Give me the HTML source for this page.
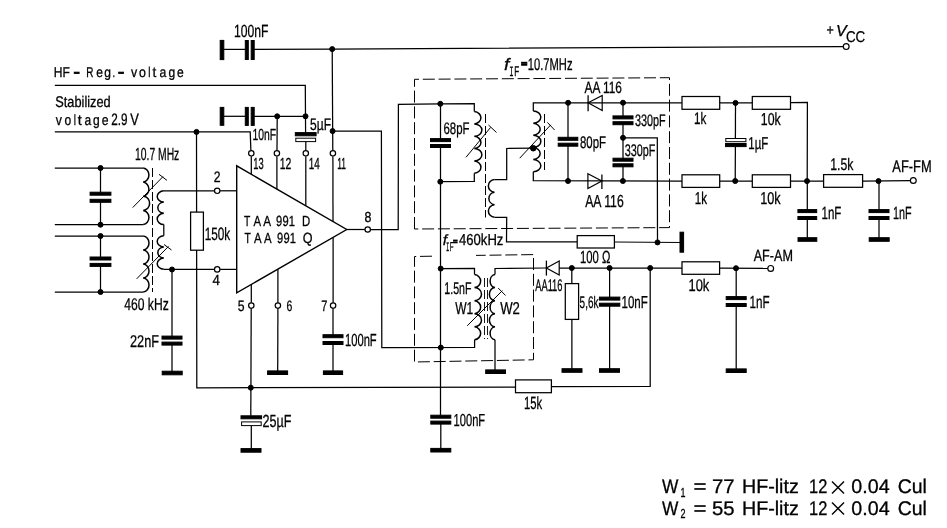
<!DOCTYPE html>
<html><head><meta charset="utf-8"><title>TAA 991 AM/FM IF circuit</title>
<style>html,body{margin:0;padding:0;background:#fff}svg{display:block;filter:grayscale(1)}
svg text{text-rendering:geometricPrecision}
svg path,svg rect,svg circle{stroke:#000;stroke-linejoin:miter;stroke-linecap:butt}
svg path{fill:none}
svg text{font-family:"Liberation Sans",sans-serif;fill:#000;stroke:#000;stroke-width:0.3}</style></head>
<body><svg width="947" height="528" viewBox="0 0 947 528">
<rect x="0" y="0" width="947" height="528" fill="#fff" stroke="none" style="stroke:none"/>
<rect x="220.2" y="40.4" width="3.6" height="19.2" fill="#000" stroke="none"/>
<path d="M222.0 49.4 L246.5 49.4" stroke-width="1.25" />
<rect x="245.3" y="40.5" width="3.0" height="19.0" fill="#000" stroke="none"/>
<rect x="251.2" y="40.5" width="3.0" height="19.0" fill="#000" stroke="none"/>
<path d="M253.5 49.4 L332.2 49.1 L843.3 46.6" stroke-width="1.25" />
<circle cx="846.2" cy="46.6" r="2.9" fill="#fff" stroke-width="1.2"/>
<circle cx="332.2" cy="49.1" r="2.5" fill="#000" stroke="none"/>
<path d="M332.2 49.1 L332.8 150.5" stroke-width="1.25" />
<path d="M332.9 156.3 L333.0 221.8" stroke-width="1.25" />
<circle cx="332.6" cy="131.1" r="2.5" fill="#000" stroke="none"/>
<path d="M332.6 131.1 L381.4 131.1 L381.8 347.6 L474.6 347.4 L474.6 339.8" stroke-width="1.25" />
<path d="M54.8 85.4 L305.3 85.4 L305.6 132.6" stroke-width="1.25" />
<circle cx="305.5" cy="116.3" r="2.5" fill="#000" stroke="none"/>
<rect x="295.3" y="132.6" width="20.8" height="3.2" fill="#000" stroke="none"/>
<rect x="295.8" y="138.2" width="19.8" height="3.4" fill="#fff" stroke-width="1.0"/>
<path d="M305.8 141.8 L305.8 150.4" stroke-width="1.25" />
<path d="M305.8 156.3 L305.8 205.8" stroke-width="1.25" />
<rect x="220.2" y="107.4" width="3.6" height="17.9" fill="#000" stroke="none"/>
<path d="M222.0 116.3 L246.5 116.3" stroke-width="1.25" />
<rect x="245.3" y="107.4" width="3.0" height="18.0" fill="#000" stroke="none"/>
<rect x="251.2" y="107.4" width="3.0" height="18.0" fill="#000" stroke="none"/>
<path d="M253.5 116.3 L305.5 116.3" stroke-width="1.25" />
<circle cx="277.2" cy="116.3" r="2.5" fill="#000" stroke="none"/>
<path d="M277.2 116.3 L277.0 150.4" stroke-width="1.25" />
<path d="M276.9 156.3 L276.9 189.1" stroke-width="1.25" />
<path d="M54.8 131.9 L250.2 131.9 L250.9 150.4" stroke-width="1.25" />
<path d="M251.3 156.3 L251.3 174.3" stroke-width="1.25" />
<circle cx="196.5" cy="131.9" r="2.5" fill="#000" stroke="none"/>
<path d="M196.5 131.9 L196.8 387.8 L515.5 387.2" stroke-width="1.25" />
<rect x="190.6" y="212.1" width="12.8" height="38.1" fill="#fff" stroke-width="1.25"/>
<rect x="515.5" y="379.9" width="35.9" height="12.8" fill="#fff" stroke-width="1.25"/>
<path d="M551.4 386.7 L650.2 386.5 L650.2 268.0" stroke-width="1.25" />
<path d="M54.8 168.0 L143.2 168.0" stroke-width="1.25" />
<path d="M54.8 224.7 L143.2 224.7" stroke-width="1.25" />
<path d="M54.8 236.0 L143.2 236.0" stroke-width="1.25" />
<path d="M54.8 292.0 L143.2 292.0" stroke-width="1.25" />
<path d="M100.5 168.0 L100.5 193.7" stroke-width="1.25" />
<path d="M100.5 200.8 L100.5 224.7" stroke-width="1.25" />
<rect x="90.1" y="192.2" width="20.8" height="3.0" fill="#000" stroke="none"/>
<rect x="90.1" y="199.3" width="20.8" height="3.0" fill="#000" stroke="none"/>
<path d="M100.5 236.0 L100.5 258.5" stroke-width="1.25" />
<path d="M100.5 264.9 L100.5 292.0" stroke-width="1.25" />
<rect x="90.1" y="257.0" width="20.8" height="3.0" fill="#000" stroke="none"/>
<rect x="90.1" y="263.4" width="20.8" height="3.0" fill="#000" stroke="none"/>
<circle cx="100.5" cy="168.0" r="2.5" fill="#000" stroke="none"/>
<circle cx="100.5" cy="224.7" r="2.5" fill="#000" stroke="none"/>
<circle cx="100.5" cy="236.0" r="2.5" fill="#000" stroke="none"/>
<circle cx="100.5" cy="292.0" r="2.5" fill="#000" stroke="none"/>
<path d="M143.2 168.0 A6.4 7.09 0 0 1 143.2 182.1 A6.4 7.09 0 0 1 143.2 196.2 A6.4 7.09 0 0 1 143.2 210.4 A6.4 7.09 0 0 1 143.2 224.5" stroke-width="1.5"/>
<path d="M143.2 236.0 A6.4 7.03 0 0 1 143.2 250.0 A6.4 7.03 0 0 1 143.2 264.0 A6.4 7.03 0 0 1 143.2 278.0 A6.4 7.03 0 0 1 143.2 292.0" stroke-width="1.5"/>
<path d="M152.5 168.0 L152.5 292.0" stroke-width="1.0" stroke-dasharray="9 3"/>
<path d="M214.3 190.8 L163.8 190.8" stroke-width="1.25" />
<path d="M163.8 190.8 A7.0 5.66 0 0 0 163.8 202.1 A7.0 5.66 0 0 0 163.8 213.3 A7.0 5.66 0 0 0 163.8 224.6" stroke-width="1.5"/>
<path d="M163.8 224.6 L163.8 235.8" stroke-width="1.25" />
<path d="M163.8 235.8 A7.0 5.61 0 0 0 163.8 247.0 A7.0 5.61 0 0 0 163.8 258.1 A7.0 5.61 0 0 0 163.8 269.3" stroke-width="1.5"/>
<path d="M163.8 269.3 L214.3 269.4" stroke-width="1.25" />
<circle cx="172.0" cy="269.5" r="2.5" fill="#000" stroke="none"/>
<path d="M172.0 269.5 L172.0 337.6" stroke-width="1.25" />
<path d="M172.0 343.6 L172.0 373.0" stroke-width="1.25" />
<rect x="162.0" y="336.1" width="20.0" height="3.0" fill="#000" stroke="none"/>
<rect x="162.0" y="342.1" width="20.0" height="3.0" fill="#000" stroke="none"/>
<rect x="162.2" y="371.2" width="20.0" height="3.6" fill="#000" stroke="none"/>
<path d="M132.7 207.6 L163.0 176.6" stroke-width="1.0" />
<path d="M159.0 174.3 L167.0 180.4" stroke-width="1.0" />
<path d="M136.7 278.8 L168.5 246.4" stroke-width="1.0" />
<path d="M164.0 244.5 L171.5 250.0" stroke-width="1.0" />
<circle cx="217.2" cy="190.8" r="2.7" fill="#fff" stroke-width="1.2"/>
<circle cx="217.2" cy="269.4" r="2.7" fill="#fff" stroke-width="1.2"/>
<path d="M220.1 190.8 L236.7 190.8" stroke-width="1.25" />
<path d="M220.1 269.4 L236.7 269.4" stroke-width="1.25" />
<path d="M236.7 165.8 L236.7 292.9 L346.7 229.5 Z" stroke-width="1.4" fill="none"/>
<circle cx="251.3" cy="153.3" r="2.7" fill="#fff" stroke-width="1.2"/>
<circle cx="276.9" cy="153.3" r="2.7" fill="#fff" stroke-width="1.2"/>
<circle cx="305.8" cy="153.3" r="2.7" fill="#fff" stroke-width="1.2"/>
<circle cx="332.9" cy="153.3" r="2.7" fill="#fff" stroke-width="1.2"/>
<path d="M346.7 229.5 L364.8 229.5" stroke-width="1.25" />
<circle cx="367.7" cy="229.5" r="2.7" fill="#fff" stroke-width="1.2"/>
<path d="M370.6 229.5 L398.2 229.5 L398.4 104.3 L440.3 103.8 L474.3 103.6 L474.3 111.6" stroke-width="1.25" />
<circle cx="251.3" cy="305.6" r="2.7" fill="#fff" stroke-width="1.2"/>
<circle cx="277.9" cy="305.6" r="2.7" fill="#fff" stroke-width="1.2"/>
<circle cx="333.1" cy="305.6" r="2.7" fill="#fff" stroke-width="1.2"/>
<path d="M251.3 284.5 L251.3 302.7" stroke-width="1.25" />
<path d="M251.2 308.5 L250.8 415.8" stroke-width="1.25" />
<circle cx="250.8" cy="387.7" r="2.5" fill="#000" stroke="none"/>
<rect x="241.0" y="415.8" width="20.6" height="3.0" fill="#000" stroke="none"/>
<rect x="241.6" y="421.9" width="19.6" height="3.7" fill="#fff" stroke-width="1.0"/>
<path d="M251.3 425.8 L251.3 450.0" stroke-width="1.25" />
<rect x="241.0" y="448.6" width="20.0" height="3.6" fill="#000" stroke="none"/>
<path d="M277.9 269.2 L277.9 302.7" stroke-width="1.25" />
<path d="M277.9 308.5 L277.7 372.0" stroke-width="1.25" />
<rect x="267.6" y="370.9" width="20.0" height="3.6" fill="#000" stroke="none"/>
<path d="M333.1 237.3 L333.1 302.7" stroke-width="1.25" />
<path d="M333.0 308.5 L333.0 336.2" stroke-width="1.25" />
<path d="M333.0 343.0 L333.0 372.0" stroke-width="1.25" />
<rect x="323.0" y="334.7" width="20.0" height="3.0" fill="#000" stroke="none"/>
<rect x="323.0" y="341.5" width="20.0" height="3.0" fill="#000" stroke="none"/>
<rect x="323.4" y="370.9" width="19.2" height="3.6" fill="#000" stroke="none"/>
<path d="M414.5 229.0 L414.5 79.3 L669.5 77.7 L669.5 227.6 L414.5 229.0" stroke-width="1.0" stroke-dasharray="12 3.8"/>
<circle cx="440.3" cy="103.8" r="2.5" fill="#000" stroke="none"/>
<path d="M440.5 103.8 L440.5 140.1" stroke-width="1.25" />
<path d="M440.5 146.0 L440.5 415.2" stroke-width="1.25" />
<rect x="430.5" y="138.6" width="20.0" height="3.0" fill="#000" stroke="none"/>
<rect x="430.5" y="144.5" width="20.0" height="3.0" fill="#000" stroke="none"/>
<path d="M440.8 424.0 L440.8 450.0" stroke-width="1.25" />
<rect x="430.8" y="415.2" width="20.0" height="3.0" fill="#000" stroke="none"/>
<rect x="430.8" y="421.1" width="20.0" height="3.0" fill="#000" stroke="none"/>
<rect x="430.8" y="448.4" width="20.0" height="3.6" fill="#000" stroke="none"/>
<circle cx="440.3" cy="181.7" r="2.5" fill="#000" stroke="none"/>
<circle cx="440.7" cy="268.6" r="2.5" fill="#000" stroke="none"/>
<circle cx="440.8" cy="347.6" r="2.5" fill="#000" stroke="none"/>
<path d="M474.3 111.6 A7.6 6.20 0 0 1 474.3 123.9 A7.6 6.20 0 0 1 474.3 136.3 A7.6 6.20 0 0 1 474.3 148.6 A7.6 6.20 0 0 1 474.3 161.0 A7.6 6.20 0 0 1 474.3 173.3" stroke-width="1.5"/>
<path d="M474.3 173.3 L474.3 181.5 L440.3 181.7" stroke-width="1.25" />
<path d="M485.5 114.0 L485.5 217.5" stroke-width="1.0" stroke-dasharray="9 3"/>
<path d="M466.0 157.3 L490.5 127.5" stroke-width="1.0" />
<path d="M488.5 125.0 L496.5 132.5" stroke-width="1.0" />
<circle cx="533.3" cy="148.2" r="2.8" fill="#000" stroke="none"/>
<path d="M533.3 148.2 L506.7 148.5 L506.7 179.6 L494.5 179.6" stroke-width="1.25" />
<path d="M494.5 179.6 A6.5 6.31 0 0 0 494.5 192.2 A6.5 6.31 0 0 0 494.5 204.7 A6.5 6.31 0 0 0 494.5 217.3" stroke-width="1.5"/>
<path d="M494.5 217.3 L506.7 217.3 L506.5 241.9 L577.2 241.8" stroke-width="1.25" />
<rect x="577.2" y="235.6" width="37.2" height="12.4" fill="#fff" stroke-width="1.25"/>
<path d="M614.4 242.0 L681.8 242.5" stroke-width="1.25" />
<circle cx="657.5" cy="242.4" r="2.5" fill="#000" stroke="none"/>
<rect x="680.0" y="232.2" width="3.6" height="20.0" fill="#000" stroke="none"/>
<path d="M533.3 111.0 L533.3 102.8 L682.0 102.8" stroke-width="1.25" />
<path d="M533.3 111.0 A8.0 6.11 0 0 1 533.3 123.2 A8.0 6.11 0 0 1 533.3 135.3 A8.0 6.11 0 0 1 533.3 147.5 A8.0 6.11 0 0 1 533.3 159.6 A8.0 6.11 0 0 1 533.3 171.8" stroke-width="1.5"/>
<path d="M533.3 171.8 L533.3 180.6 L682.0 181.0" stroke-width="1.25" />
<path d="M544.5 114.0 L544.5 170.0" stroke-width="1.0" stroke-dasharray="9 3"/>
<path d="M519.7 158.2 L550.8 124.8" stroke-width="1.0" />
<path d="M547.4 122.4 L554.6 130.0" stroke-width="1.0" />
<circle cx="568.1" cy="102.8" r="2.5" fill="#000" stroke="none"/>
<circle cx="568.0" cy="181.0" r="2.5" fill="#000" stroke="none"/>
<path d="M568.0 102.8 L568.0 138.8" stroke-width="1.25" />
<path d="M568.0 144.7 L568.0 181.0" stroke-width="1.25" />
<rect x="558.2" y="137.3" width="19.6" height="3.0" fill="#000" stroke="none"/>
<rect x="558.2" y="143.2" width="19.6" height="3.0" fill="#000" stroke="none"/>
<path d="M588.1 102.8 L602.2 95.5 L602.2 110.5 Z" fill="#fff" stroke-width="1.2"/>
<path d="M588.1 95.2 L588.1 111.2" stroke-width="1.3" />
<circle cx="623.0" cy="102.7" r="2.5" fill="#000" stroke="none"/>
<circle cx="623.0" cy="137.8" r="2.5" fill="#000" stroke="none"/>
<circle cx="622.9" cy="181.0" r="2.5" fill="#000" stroke="none"/>
<path d="M623.0 102.7 L623.0 117.4" stroke-width="1.25" />
<path d="M623.0 123.2 L623.0 137.8" stroke-width="1.25" />
<rect x="613.0" y="115.9" width="20.0" height="3.0" fill="#000" stroke="none"/>
<rect x="613.0" y="121.7" width="20.0" height="3.0" fill="#000" stroke="none"/>
<path d="M623.0 137.8 L623.0 159.7" stroke-width="1.25" />
<path d="M623.0 165.3 L623.0 181.0" stroke-width="1.25" />
<rect x="613.0" y="158.2" width="20.0" height="3.0" fill="#000" stroke="none"/>
<rect x="613.0" y="163.8" width="20.0" height="3.0" fill="#000" stroke="none"/>
<path d="M623.0 137.8 L657.3 137.8 L657.5 242.4" stroke-width="1.25" />
<path d="M587.9 173.8 L587.9 188.6 L601.9 181 Z" fill="#fff" stroke-width="1.2"/>
<path d="M601.9 174.4 L601.9 188.9" stroke-width="1.3" />
<rect x="682.0" y="96.5" width="37.7" height="12.8" fill="#fff" stroke-width="1.25"/>
<rect x="752.3" y="96.5" width="38.2" height="12.8" fill="#fff" stroke-width="1.25"/>
<rect x="682.0" y="174.8" width="37.7" height="12.6" fill="#fff" stroke-width="1.25"/>
<rect x="752.3" y="174.8" width="38.2" height="12.6" fill="#fff" stroke-width="1.25"/>
<path d="M719.7 102.9 L752.3 102.9" stroke-width="1.25" />
<path d="M719.7 181.0 L752.3 181.0" stroke-width="1.25" />
<circle cx="735.5" cy="102.9" r="2.5" fill="#000" stroke="none"/>
<circle cx="735.2" cy="181.0" r="2.5" fill="#000" stroke="none"/>
<path d="M735.5 102.9 L735.4 138.4" stroke-width="1.25" />
<path d="M735.4 146.5 L735.2 181.0" stroke-width="1.25" />
<rect x="725.8" y="138.5" width="20.1" height="3.2" fill="#fff" stroke-width="1.0"/>
<rect x="725.5" y="143.5" width="20.6" height="3.1" fill="#000" stroke="none"/>
<path d="M790.5 102.6 L807.4 102.5 L807.2 181.0" stroke-width="1.25" />
<path d="M790.5 181.0 L823.6 181.1" stroke-width="1.25" />
<circle cx="807.0" cy="181.1" r="2.5" fill="#000" stroke="none"/>
<rect x="823.6" y="174.6" width="39.0" height="12.7" fill="#fff" stroke-width="1.25"/>
<path d="M862.6 181.1 L910.5 180.6" stroke-width="1.25" />
<circle cx="878.5" cy="181.1" r="2.5" fill="#000" stroke="none"/>
<circle cx="913.3" cy="180.5" r="2.9" fill="#fff" stroke-width="1.2"/>
<path d="M807.3 181.0 L807.3 211.1" stroke-width="1.25" />
<path d="M807.3 218.0 L807.3 239.5" stroke-width="1.25" />
<rect x="797.9" y="209.6" width="18.8" height="3.0" fill="#000" stroke="none"/>
<rect x="797.9" y="216.5" width="18.8" height="3.0" fill="#000" stroke="none"/>
<rect x="798.0" y="237.7" width="18.8" height="3.6" fill="#000" stroke="none"/>
<path d="M879.0 181.0 L879.0 211.1" stroke-width="1.25" />
<path d="M879.0 218.0 L879.0 239.5" stroke-width="1.25" />
<rect x="869.0" y="209.6" width="20.0" height="3.0" fill="#000" stroke="none"/>
<rect x="869.0" y="216.5" width="20.0" height="3.0" fill="#000" stroke="none"/>
<rect x="869.2" y="237.7" width="20.0" height="3.6" fill="#000" stroke="none"/>
<path d="M432.0 256.2 L414.5 256.5 L414.5 362.0 L533.5 359.8 L533.5 254.6 L476.0 255.4" stroke-width="1.0" stroke-dasharray="12 3.8"/>
<path d="M440.7 268.6 L474.5 268.5 L474.5 274.6" stroke-width="1.25" />
<path d="M474.5 274.6 A7.0 6.55 0 0 1 474.5 287.6 A7.0 6.55 0 0 1 474.5 300.7 A7.0 6.55 0 0 1 474.5 313.7 A7.0 6.55 0 0 1 474.5 326.8 A7.0 6.55 0 0 1 474.5 339.8" stroke-width="1.5"/>
<path d="M484.5 278.0 L484.5 339.0" stroke-width="0.9" stroke-dasharray="9 3"/>
<path d="M487.5 278.0 L487.5 339.0" stroke-width="0.9" stroke-dasharray="9 3"/>
<path d="M495.0 274.6 L495.0 268.5 L546.4 268.0" stroke-width="1.25" />
<path d="M495.0 274.6 A5.6 6.55 0 0 0 495.0 287.6 A5.6 6.55 0 0 0 495.0 300.7 A5.6 6.55 0 0 0 495.0 313.7 A5.6 6.55 0 0 0 495.0 326.8 A5.6 6.55 0 0 0 495.0 339.8" stroke-width="1.5"/>
<path d="M495.0 339.8 L495.0 371.0" stroke-width="1.25" />
<rect x="485.7" y="369.9" width="19.8" height="3.6" fill="#000" stroke="none"/>
<path d="M467.2 325.8 L502.4 290.6" stroke-width="1.0" />
<path d="M498.2 288.1 L505.6 295.5" stroke-width="1.0" />
<path d="M546.4 268 L559.2 261 L559.2 275 Z" fill="#fff" stroke-width="1.2"/>
<path d="M546.4 260.6 L546.4 275.6" stroke-width="1.3" />
<path d="M559.2 268.0 L682.0 268.1" stroke-width="1.25" />
<rect x="682.0" y="261.8" width="37.6" height="12.5" fill="#fff" stroke-width="1.25"/>
<path d="M719.6 268.2 L768.0 268.4" stroke-width="1.25" />
<circle cx="736.0" cy="268.2" r="2.5" fill="#000" stroke="none"/>
<circle cx="770.7" cy="268.4" r="2.9" fill="#fff" stroke-width="1.2"/>
<circle cx="571.8" cy="268.0" r="2.5" fill="#000" stroke="none"/>
<circle cx="609.6" cy="268.0" r="2.5" fill="#000" stroke="none"/>
<circle cx="650.2" cy="268.0" r="2.5" fill="#000" stroke="none"/>
<path d="M571.8 268.0 L571.9 370.0" stroke-width="1.25" />
<rect x="565.3" y="283.6" width="13.3" height="35.8" fill="#fff" stroke-width="1.25"/>
<rect x="562.0" y="368.7" width="20.0" height="3.6" fill="#000" stroke="none"/>
<path d="M609.6 268.0 L609.6 298.6" stroke-width="1.25" />
<path d="M609.6 304.7 L609.6 370.0" stroke-width="1.25" />
<rect x="599.4" y="297.1" width="20.4" height="3.0" fill="#000" stroke="none"/>
<rect x="599.4" y="303.2" width="20.4" height="3.0" fill="#000" stroke="none"/>
<rect x="599.5" y="368.7" width="20.0" height="3.6" fill="#000" stroke="none"/>
<path d="M736.2 268.2 L736.2 298.1" stroke-width="1.25" />
<path d="M736.2 305.0 L736.2 370.0" stroke-width="1.25" />
<rect x="726.2" y="296.6" width="20.0" height="3.0" fill="#000" stroke="none"/>
<rect x="726.2" y="303.5" width="20.0" height="3.0" fill="#000" stroke="none"/>
<rect x="726.2" y="368.9" width="20.0" height="3.6" fill="#000" stroke="none"/>
<g style="opacity:0.999">
<text x="234.0" y="37.2" font-size="17.7"  textLength="34.5" lengthAdjust="spacingAndGlyphs" >100nF</text>
<text x="53.7" y="76.9" font-size="14.3"  textLength="16.1" lengthAdjust="spacingAndGlyphs" >HF</text>
<text x="86.3" y="76.9" font-size="14.3"  textLength="7.2" lengthAdjust="spacingAndGlyphs" >R</text>
<text x="96.3" y="76.9" font-size="14.3"  textLength="6.7" lengthAdjust="spacingAndGlyphs" >e</text>
<text x="104.2" y="76.9" font-size="14.3"  textLength="6.7" lengthAdjust="spacingAndGlyphs" >g</text>
<text x="112.6" y="76.9" font-size="14.3"  textLength="2.6" lengthAdjust="spacingAndGlyphs" >.</text>
<text x="131.0" y="76.9" font-size="14.3"  textLength="6.2" lengthAdjust="spacingAndGlyphs" >v</text>
<text x="139.0" y="76.9" font-size="14.3"  textLength="6.9" lengthAdjust="spacingAndGlyphs" >o</text>
<text x="148.3" y="76.9" font-size="14.3"  textLength="2.2" lengthAdjust="spacingAndGlyphs" >l</text>
<text x="152.4" y="76.9" font-size="14.3"  textLength="3.8" lengthAdjust="spacingAndGlyphs" >t</text>
<text x="159.6" y="76.9" font-size="14.3"  textLength="6.8" lengthAdjust="spacingAndGlyphs" >a</text>
<text x="168.4" y="76.9" font-size="14.3"  textLength="6.7" lengthAdjust="spacingAndGlyphs" >g</text>
<text x="177.1" y="76.9" font-size="14.3"  textLength="6.7" lengthAdjust="spacingAndGlyphs" >e</text>
<rect x="74.3" y="72.2" width="4.8" height="1.2" fill="#000" stroke="none"/>
<rect x="118.7" y="72.2" width="4.7" height="1.2" fill="#000" stroke="none"/>
<text x="55.3" y="107.2" font-size="15.4"  textLength="55.4" lengthAdjust="spacingAndGlyphs" >Stabilized</text>
<text x="55.8" y="124.7" font-size="14.7"  textLength="6.1" lengthAdjust="spacingAndGlyphs" >v</text>
<text x="64.6" y="124.7" font-size="14.7"  textLength="6.7" lengthAdjust="spacingAndGlyphs" >o</text>
<text x="73.8" y="124.7" font-size="14.7"  textLength="2.2" lengthAdjust="spacingAndGlyphs" >l</text>
<text x="77.7" y="124.7" font-size="14.7"  textLength="4.0" lengthAdjust="spacingAndGlyphs" >t</text>
<text x="84.4" y="124.7" font-size="14.7"  textLength="6.7" lengthAdjust="spacingAndGlyphs" >a</text>
<text x="93.1" y="124.7" font-size="14.7"  textLength="6.7" lengthAdjust="spacingAndGlyphs" >g</text>
<text x="101.8" y="124.7" font-size="14.7"  textLength="6.8" lengthAdjust="spacingAndGlyphs" >e</text>
<text x="111.3" y="124.7" font-size="16.6"  textLength="16.3" lengthAdjust="spacingAndGlyphs" >2.9</text>
<text x="130.2" y="124.7" font-size="16.6"  textLength="8.6" lengthAdjust="spacingAndGlyphs" >V</text>
<text x="252.4" y="139.8" font-size="16.0"  textLength="23.6" lengthAdjust="spacingAndGlyphs" >10nF</text>
<text x="310.0" y="130.0" font-size="16.6"  textLength="21.0" lengthAdjust="spacingAndGlyphs" >5µF</text>
<text x="443.5" y="133.8" font-size="16.6"  textLength="26.0" lengthAdjust="spacingAndGlyphs" >68pF</text>
<text x="584.5" y="92.8" font-size="16.4"  textLength="37.5" lengthAdjust="spacingAndGlyphs" >AA 116</text>
<text x="580.0" y="148.3" font-size="16.7"  textLength="26.0" lengthAdjust="spacingAndGlyphs" >80pF</text>
<text x="635.0" y="126.2" font-size="16.6"  textLength="30.6" lengthAdjust="spacingAndGlyphs" >330pF</text>
<text x="624.7" y="155.8" font-size="16.9"  textLength="30.7" lengthAdjust="spacingAndGlyphs" >330pF</text>
<text x="694.0" y="124.2" font-size="16.6"  textLength="12.3" lengthAdjust="spacingAndGlyphs" >1k</text>
<text x="760.8" y="124.5" font-size="17.3"  textLength="19.9" lengthAdjust="spacingAndGlyphs" >10k</text>
<text x="748.3" y="148.8" font-size="17.1"  textLength="19.9" lengthAdjust="spacingAndGlyphs" >1µF</text>
<text x="694.8" y="204.3" font-size="17.1"  textLength="12.2" lengthAdjust="spacingAndGlyphs" >1k</text>
<text x="760.3" y="204.0" font-size="17.1"  textLength="20.4" lengthAdjust="spacingAndGlyphs" >10k</text>
<text x="585.2" y="206.7" font-size="17.4"  textLength="38.5" lengthAdjust="spacingAndGlyphs" >AA 116</text>
<text x="580.0" y="263.3" font-size="17.6"  textLength="30.4" lengthAdjust="spacingAndGlyphs" >100 Ω</text>
<text x="830.2" y="169.7" font-size="16.7"  textLength="23.1" lengthAdjust="spacingAndGlyphs" >1.5k</text>
<text x="892.3" y="172.4" font-size="16.7"  textLength="39.3" lengthAdjust="spacingAndGlyphs" >AF-FM</text>
<text x="821.5" y="219.4" font-size="17.7"  textLength="19.9" lengthAdjust="spacingAndGlyphs" >1nF</text>
<text x="893.1" y="219.4" font-size="17.7"  textLength="18.6" lengthAdjust="spacingAndGlyphs" >1nF</text>
<text x="135.0" y="159.7" font-size="17.6"  textLength="44.3" lengthAdjust="spacingAndGlyphs" >10.7 MHz</text>
<text x="124.3" y="309.7" font-size="17.0"  textLength="44.4" lengthAdjust="spacingAndGlyphs" >460 kHz</text>
<text x="130.0" y="346.6" font-size="17.0"  textLength="29.0" lengthAdjust="spacingAndGlyphs" >22nF</text>
<text x="204.7" y="239.5" font-size="17.9"  textLength="25.5" lengthAdjust="spacingAndGlyphs" >150k</text>
<text x="253.2" y="168.6" font-size="16.0"  textLength="10.4" lengthAdjust="spacingAndGlyphs" >13</text>
<text x="279.8" y="168.6" font-size="16.0"  textLength="11.6" lengthAdjust="spacingAndGlyphs" >12</text>
<text x="308.8" y="168.6" font-size="16.0"  textLength="11.0" lengthAdjust="spacingAndGlyphs" >14</text>
<text x="337.2" y="168.6" font-size="16.0"  textLength="8.8" lengthAdjust="spacingAndGlyphs" >11</text>
<text x="213.7" y="181.8" font-size="15.1"  textLength="6.8" lengthAdjust="spacingAndGlyphs" >2</text>
<text x="212.6" y="285.0" font-size="14.6"  textLength="7.4" lengthAdjust="spacingAndGlyphs" >4</text>
<text x="364.4" y="222.0" font-size="14.6"  textLength="6.9" lengthAdjust="spacingAndGlyphs" >8</text>
<text x="237.7" y="311.2" font-size="15.1"  textLength="6.8" lengthAdjust="spacingAndGlyphs" >5</text>
<text x="286.4" y="311.2" font-size="15.1"  textLength="5.8" lengthAdjust="spacingAndGlyphs" >6</text>
<text x="321.2" y="311.2" font-size="15.1"  textLength="6.1" lengthAdjust="spacingAndGlyphs" >7</text>
<text x="244.0" y="226.3" font-size="14.7"  textLength="6.3" lengthAdjust="spacingAndGlyphs" >T</text>
<text x="253.4" y="226.3" font-size="14.7"  textLength="7.6" lengthAdjust="spacingAndGlyphs" >A</text>
<text x="263.2" y="226.3" font-size="14.7"  textLength="7.8" lengthAdjust="spacingAndGlyphs" >A</text>
<text x="276.0" y="226.3" font-size="14.7"  textLength="6.2" lengthAdjust="spacingAndGlyphs" >9</text>
<text x="282.4" y="226.3" font-size="14.7"  textLength="6.2" lengthAdjust="spacingAndGlyphs" >9</text>
<text x="288.8" y="226.3" font-size="14.7"  textLength="6.2" lengthAdjust="spacingAndGlyphs" >1</text>
<text x="302.0" y="226.3" font-size="14.7"  textLength="8.2" lengthAdjust="spacingAndGlyphs" >D</text>
<text x="244.6" y="243.1" font-size="14.7"  textLength="6.3" lengthAdjust="spacingAndGlyphs" >T</text>
<text x="254.0" y="243.1" font-size="14.7"  textLength="7.6" lengthAdjust="spacingAndGlyphs" >A</text>
<text x="264.0" y="243.1" font-size="14.7"  textLength="7.6" lengthAdjust="spacingAndGlyphs" >A</text>
<text x="277.0" y="243.1" font-size="14.7"  textLength="6.2" lengthAdjust="spacingAndGlyphs" >9</text>
<text x="283.4" y="243.1" font-size="14.7"  textLength="6.2" lengthAdjust="spacingAndGlyphs" >9</text>
<text x="289.8" y="243.1" font-size="14.7"  textLength="6.2" lengthAdjust="spacingAndGlyphs" >1</text>
<text x="302.8" y="243.1" font-size="14.7"  textLength="9.8" lengthAdjust="spacingAndGlyphs" >Q</text>
<text x="345.0" y="346.3" font-size="17.6"  textLength="31.7" lengthAdjust="spacingAndGlyphs" >100nF</text>
<text x="262.6" y="426.5" font-size="17.6"  textLength="28.9" lengthAdjust="spacingAndGlyphs" >25µF</text>
<text x="444.3" y="294.3" font-size="16.7"  textLength="27.2" lengthAdjust="spacingAndGlyphs" >1.5nF</text>
<text x="455.2" y="314.2" font-size="17.1"  textLength="18.0" lengthAdjust="spacingAndGlyphs" >W1</text>
<text x="500.2" y="314.2" font-size="17.1"  textLength="19.7" lengthAdjust="spacingAndGlyphs" >W2</text>
<text x="535.2" y="290.7" font-size="16.7"  textLength="27.3" lengthAdjust="spacingAndGlyphs" >AA116</text>
<text x="579.6" y="308.1" font-size="16.7"  textLength="18.8" lengthAdjust="spacingAndGlyphs" >5,6k</text>
<text x="621.5" y="308.0" font-size="17.3"  textLength="26.3" lengthAdjust="spacingAndGlyphs" >10nF</text>
<text x="688.5" y="290.5" font-size="17.0"  textLength="20.8" lengthAdjust="spacingAndGlyphs" >10k</text>
<text x="753.7" y="261.3" font-size="16.3"  textLength="39.2" lengthAdjust="spacingAndGlyphs" >AF-AM</text>
<text x="749.6" y="307.5" font-size="17.6"  textLength="20.1" lengthAdjust="spacingAndGlyphs" >1nF</text>
<text x="524.0" y="409.4" font-size="17.7"  textLength="18.2" lengthAdjust="spacingAndGlyphs" >15k</text>
<text x="453.6" y="426.0" font-size="17.4"  textLength="31.5" lengthAdjust="spacingAndGlyphs" >100nF</text>
<text x="826.5" y="35.0" font-size="15.0"  textLength="7.3" lengthAdjust="spacingAndGlyphs" >+</text>
<text x="836.0" y="35.7" font-size="15.9"  textLength="10.7" lengthAdjust="spacingAndGlyphs" font-style="italic">V</text>
<text x="845.9" y="42.4" font-size="15.7"  textLength="19.3" lengthAdjust="spacingAndGlyphs" >CC</text>
<text x="504.0" y="69.5" font-size="16.6"  textLength="5.3" lengthAdjust="spacingAndGlyphs" font-style="italic">f</text>
<text x="509.2" y="75.7" font-size="14.1" style="font-family:&quot;Liberation Mono&quot;,monospace" textLength="4.4" lengthAdjust="spacingAndGlyphs" >I</text>
<text x="514.2" y="75.7" font-size="14.1"  textLength="5.0" lengthAdjust="spacingAndGlyphs" >F</text>
<rect x="521.6" y="62.3" width="5.2" height="1.0" fill="#000" stroke="none"/>
<rect x="521.6" y="64.3" width="5.2" height="0.9" fill="#000" stroke="none"/>
<text x="527.8" y="69.5" font-size="17.0"  textLength="44.7" lengthAdjust="spacingAndGlyphs" >10.7MHz</text>
<text x="442.8" y="245.4" font-size="14.9"  textLength="4.3" lengthAdjust="spacingAndGlyphs" font-style="italic">f</text>
<text x="445.9" y="251.1" font-size="13.0" style="font-family:&quot;Liberation Mono&quot;,monospace" textLength="3.4" lengthAdjust="spacingAndGlyphs" >I</text>
<text x="449.7" y="251.1" font-size="13.0"  textLength="3.8" lengthAdjust="spacingAndGlyphs" >F</text>
<rect x="453.6" y="240.1" width="3.5" height="0.8" fill="#000" stroke="none"/>
<rect x="453.6" y="242.0" width="3.5" height="0.8" fill="#000" stroke="none"/>
<text x="459.0" y="245.4" font-size="15.9"  textLength="44.4" lengthAdjust="spacingAndGlyphs" >460kHz</text>
<text x="662.0" y="493.4" font-size="19.7"  textLength="16.4" lengthAdjust="spacingAndGlyphs" >W</text>
<text x="680.6" y="496.8" font-size="13.1"  textLength="5.0" lengthAdjust="spacingAndGlyphs" >1</text>
<text x="693.5" y="493.4" font-size="19.7"  textLength="13.0" lengthAdjust="spacingAndGlyphs" >=</text>
<text x="712.0" y="493.4" font-size="19.7"  textLength="22.6" lengthAdjust="spacingAndGlyphs" >77</text>
<text x="742.0" y="493.4" font-size="19.7"  textLength="56.8" lengthAdjust="spacingAndGlyphs" >HF-litz</text>
<text x="809.0" y="493.4" font-size="19.7"  textLength="18.3" lengthAdjust="spacingAndGlyphs" >12</text>
<path d="M832.0 481.4 L844.0 493.4" stroke-width="1.4" />
<path d="M832.0 493.4 L844.0 481.4" stroke-width="1.4" />
<text x="851.3" y="493.4" font-size="19.7"  textLength="38.3" lengthAdjust="spacingAndGlyphs" >0.04</text>
<text x="897.7" y="493.4" font-size="19.7"  textLength="29.2" lengthAdjust="spacingAndGlyphs" >Cul</text>
<text x="662.0" y="514.5" font-size="19.7"  textLength="16.4" lengthAdjust="spacingAndGlyphs" >W</text>
<text x="680.6" y="517.9" font-size="13.1"  textLength="5.0" lengthAdjust="spacingAndGlyphs" >2</text>
<text x="693.5" y="514.5" font-size="19.7"  textLength="13.0" lengthAdjust="spacingAndGlyphs" >=</text>
<text x="712.0" y="514.5" font-size="19.7"  textLength="22.6" lengthAdjust="spacingAndGlyphs" >55</text>
<text x="742.0" y="514.5" font-size="19.7"  textLength="56.8" lengthAdjust="spacingAndGlyphs" >HF-litz</text>
<text x="809.0" y="514.5" font-size="19.7"  textLength="18.3" lengthAdjust="spacingAndGlyphs" >12</text>
<path d="M832.0 502.5 L844.0 514.5" stroke-width="1.4" />
<path d="M832.0 514.5 L844.0 502.5" stroke-width="1.4" />
<text x="851.3" y="514.5" font-size="19.7"  textLength="38.3" lengthAdjust="spacingAndGlyphs" >0.04</text>
<text x="897.7" y="514.5" font-size="19.7"  textLength="29.2" lengthAdjust="spacingAndGlyphs" >Cul</text>
</g>
</svg></body></html>
